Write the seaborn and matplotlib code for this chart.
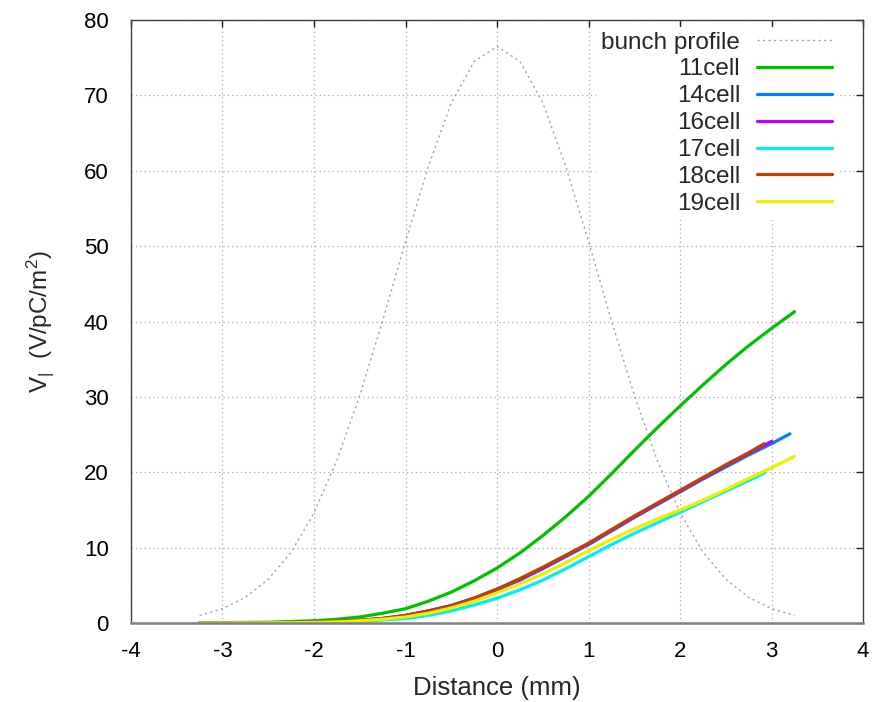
import pandas as pd
import seaborn as sns
import matplotlib.pyplot as plt
import numpy as np

# bunch profile
bunch_x = [-3.25, -3.0, -2.75, -2.5, -2.25, -2.0, -1.75, -1.5, -1.25, -1.0, -0.75, -0.5, -0.25,
           0.0, 0.25, 0.5, 0.75, 1.0, 1.25, 1.5, 1.75, 2.0, 2.25, 2.5, 2.75, 3.0, 3.25]
bunch_y = [1.0, 1.9, 3.4, 5.8, 9.4, 14.6, 21.6, 30.2, 40.1, 50.6, 60.6, 69.0, 74.5,
           76.5, 74.5, 69.0, 60.6, 50.6, 40.1, 30.2, 21.6, 14.6, 9.4, 5.8, 3.4, 1.9, 1.0]

# longitudinal wake potential per structure
x_11 = [-3.25, -3.0, -2.75, -2.5, -2.25, -2.0, -1.75, -1.5, -1.25, -1.0, -0.75, -0.5, -0.25,
        0.0, 0.25, 0.5, 0.75, 1.0, 1.25, 1.5, 1.75, 2.0, 2.25, 2.5, 2.75, 3.0, 3.25]
v_11 = [0.0, 0.05, 0.08, 0.1, 0.2, 0.3, 0.5, 0.8, 1.3, 1.9, 2.9, 4.1, 5.6,
        7.3, 9.3, 11.6, 14.1, 16.8, 19.8, 22.9, 25.9, 28.8, 31.6, 34.3, 36.8, 39.1, 41.3]

x_14 = [-3.25, -3.0, -2.75, -2.5, -2.25, -2.0, -1.75, -1.5, -1.25, -1.0, -0.75, -0.5, -0.25,
        0.0, 0.25, 0.5, 0.75, 1.0, 1.25, 1.5, 1.75, 2.0, 2.25, 2.5, 2.75, 3.0, 3.2]
v_14 = [0.0, 0.0, 0.01, 0.02, 0.05, 0.1, 0.2, 0.35, 0.6, 1.0, 1.6, 2.3, 3.3,
        4.4, 5.7, 7.2, 8.8, 10.4, 12.2, 14.0, 15.7, 17.4, 19.1, 20.7, 22.3, 23.8, 25.1]

x_16 = [-3.25, -3.0, -2.75, -2.5, -2.25, -2.0, -1.75, -1.5, -1.25, -1.0, -0.75, -0.5, -0.25,
        0.0, 0.25, 0.5, 0.75, 1.0, 1.25, 1.5, 1.75, 2.0, 2.25, 2.5, 2.75, 3.0]
v_16 = [0.0, 0.0, 0.01, 0.02, 0.05, 0.1, 0.2, 0.35, 0.6, 1.0, 1.6, 2.3, 3.3,
        4.5, 5.8, 7.3, 8.9, 10.5, 12.3, 14.1, 15.8, 17.5, 19.2, 20.9, 22.5, 24.1]

x_17 = [-3.25, -3.0, -2.75, -2.5, -2.25, -2.0, -1.75, -1.5, -1.25, -1.0, -0.75, -0.5, -0.25,
        0.0, 0.25, 0.5, 0.75, 1.0, 1.25, 1.5, 1.75, 2.0, 2.25, 2.5, 2.75, 2.92]
v_17 = [0.0, 0.0, 0.0, 0.01, 0.03, 0.05, 0.1, 0.2, 0.4, 0.6, 1.0, 1.6, 2.4,
        3.3, 4.4, 5.7, 7.2, 8.8, 10.4, 11.9, 13.3, 14.7, 16.1, 17.5, 18.9, 19.9]

x_18 = [-3.25, -3.0, -2.75, -2.5, -2.25, -2.0, -1.75, -1.5, -1.25, -1.0, -0.75, -0.5, -0.25,
        0.0, 0.25, 0.5, 0.75, 1.0, 1.25, 1.5, 1.75, 2.0, 2.25, 2.5, 2.75, 2.92]
v_18 = [0.0, 0.0, 0.01, 0.02, 0.05, 0.1, 0.2, 0.35, 0.6, 1.0, 1.6, 2.3, 3.3,
        4.5, 5.9, 7.4, 9.0, 10.6, 12.4, 14.2, 15.9, 17.6, 19.3, 21.0, 22.6, 23.8]

x_19 = [-3.25, -3.0, -2.75, -2.5, -2.25, -2.0, -1.75, -1.5, -1.25, -1.0, -0.75, -0.5, -0.25,
        0.0, 0.25, 0.5, 0.75, 1.0, 1.25, 1.5, 1.75, 2.0, 2.25, 2.5, 2.75, 3.0, 3.25]
v_19 = [0.0, 0.0, 0.01, 0.02, 0.04, 0.08, 0.15, 0.3, 0.5, 0.8, 1.3, 2.0, 2.9,
        4.0, 5.2, 6.5, 8.0, 9.6, 11.1, 12.5, 13.8, 15.0, 16.3, 17.7, 19.2, 20.6, 22.1]

cells = ['11cell', '14cell', '16cell', '17cell', '18cell', '19cell']
cell_x = [x_11, x_14, x_16, x_17, x_18, x_19]
cell_v = [v_11, v_14, v_16, v_17, v_18, v_19]
cell_colors = ['#00c000', '#0080ff', '#c000ff', '#00eeee', '#c04000', '#eeee00']

x_ticks = [-4, -3, -2, -1, 0, 1, 2, 3, 4]
y_ticks = [0, 10, 20, 30, 40, 50, 60, 70, 80]

# long df for seaborn
wake_df = pd.concat([pd.DataFrame({'distance': xs, 'wake': vs, 'structure': name})
                     for name, xs, vs in zip(cells, cell_x, cell_v)], ignore_index=True)
bunch_df = pd.DataFrame({'distance': bunch_x, 'profile': bunch_y})

sns.set_style('white')
plt.rcParams['font.family'] = ['Liberation Sans', 'DejaVu Sans']
plt.rcParams['mathtext.fontset'] = 'custom'
plt.rcParams['mathtext.rm'] = 'Liberation Sans'
plt.rcParams['mathtext.it'] = 'Liberation Sans'
plt.rcParams['axes.unicode_minus'] = False

fig = plt.figure(figsize=(8.79, 7.02), dpi=100)
ax = fig.add_axes([0.149, 0.1125, 0.833, 0.859])

sns.lineplot(data=bunch_df, x='distance', y='profile', ax=ax, color='#a0a0a0',
             linewidth=1.0, linestyle=(0, (1.5, 2.5)), label='bunch profile', sort=False)
sns.lineplot(data=wake_df, x='distance', y='wake', hue='structure', hue_order=cells,
             palette=cell_colors, ax=ax, linewidth=2.3, sort=False, estimator=None)

ax.set_xlim(-4, 4)
ax.set_ylim(0, 80)
ax.set_xticks(x_ticks)
ax.set_yticks(y_ticks)
ax.tick_params(direction='in', length=5, width=1, top=True, right=True,
               labelsize=16, colors='#202020', labelcolor='black')
ax.tick_params(axis='x', pad=13)
ax.tick_params(axis='y', pad=16)
ax.grid(True, color='#a8a8a8', linestyle=(0, (1, 2.5)), linewidth=0.9)
for side in ['left', 'top', 'right']:
    ax.spines[side].set_color('#404040')
    ax.spines[side].set_linewidth(1.0)
ax.spines['bottom'].set_color('#808080')
ax.spines['bottom'].set_linewidth(1.8)

ax.set_xlabel('Distance (mm)', fontsize=18.5, labelpad=10)
ax.set_ylabel(r'V$_{|}$  (V/pC/m$^2$)', fontsize=17.5, labelpad=20)

# markerfirst=False right-aligns the entries so labels sit flush against the handles
leg = ax.legend(loc='upper right', bbox_to_anchor=(0.968, 0.993), markerfirst=False,
                frameon=True, fontsize=17.5, handlelength=3.1, labelspacing=0.2,
                borderaxespad=0.1, handletextpad=0.7, borderpad=0.2)
leg.get_frame().set_edgecolor('none')
leg.get_frame().set_facecolor('white')
leg.get_frame().set_alpha(1.0)
for line in leg.get_lines()[1:]:
    line.set_linewidth(2.3)

fig.savefig('out.png', dpi=100)
